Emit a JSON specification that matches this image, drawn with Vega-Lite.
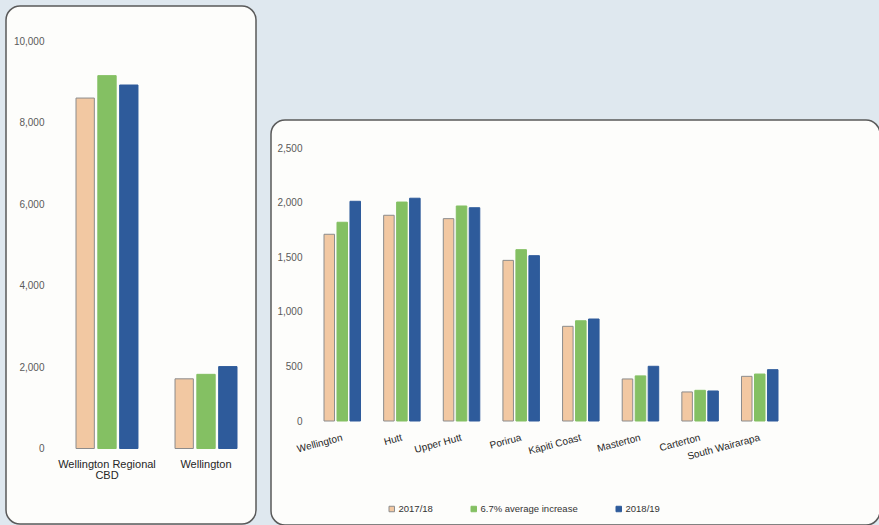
{
  "$schema": "https://vega.github.io/schema/vega-lite/v6.json",
  "background": "#dfe8ef",
  "padding": {"left": 5, "top": 5, "right": 0, "bottom": 0},
  "spacing": 13,
  "datasets": {
    "cbd": [
      {"area": "Wellington Regional CBD", "series": "2017/18", "value": 8600},
      {"area": "Wellington Regional CBD", "series": "6.7% average increase", "value": 9150},
      {"area": "Wellington Regional CBD", "series": "2018/19", "value": 8920},
      {"area": "Wellington", "series": "2017/18", "value": 1710},
      {"area": "Wellington", "series": "6.7% average increase", "value": 1820},
      {"area": "Wellington", "series": "2018/19", "value": 2010}
    ],
    "districts": [
      {"area": "Wellington", "series": "2017/18", "value": 1710},
      {"area": "Wellington", "series": "6.7% average increase", "value": 1820},
      {"area": "Wellington", "series": "2018/19", "value": 2012},
      {"area": "Hutt", "series": "2017/18", "value": 1884},
      {"area": "Hutt", "series": "6.7% average increase", "value": 2005},
      {"area": "Hutt", "series": "2018/19", "value": 2040},
      {"area": "Upper Hutt", "series": "2017/18", "value": 1853},
      {"area": "Upper Hutt", "series": "6.7% average increase", "value": 1969},
      {"area": "Upper Hutt", "series": "2018/19", "value": 1953},
      {"area": "Porirua", "series": "2017/18", "value": 1471},
      {"area": "Porirua", "series": "6.7% average increase", "value": 1569},
      {"area": "Porirua", "series": "2018/19", "value": 1514},
      {"area": "Kāpiti Coast", "series": "2017/18", "value": 867},
      {"area": "Kāpiti Coast", "series": "6.7% average increase", "value": 918},
      {"area": "Kāpiti Coast", "series": "2018/19", "value": 934},
      {"area": "Masterton", "series": "2017/18", "value": 385},
      {"area": "Masterton", "series": "6.7% average increase", "value": 413},
      {"area": "Masterton", "series": "2018/19", "value": 501},
      {"area": "Carterton", "series": "2017/18", "value": 266},
      {"area": "Carterton", "series": "6.7% average increase", "value": 281},
      {"area": "Carterton", "series": "2018/19", "value": 275},
      {"area": "South Wairarapa", "series": "2017/18", "value": 409},
      {"area": "South Wairarapa", "series": "6.7% average increase", "value": 430},
      {"area": "South Wairarapa", "series": "2018/19", "value": 470}
    ]
  },
  "hconcat": [
    {
      "data": {"name": "cbd"},
      "width": 250,
      "height": 518,
      "mark": {"type": "bar", "strokeWidth": 1},
      "encoding": {
        "x": {
          "field": "area", "type": "nominal",
          "sort": ["Wellington Regional CBD", "Wellington"],
          "scale": {"range": [70, 231], "paddingInner": 0.374, "paddingOuter": 0},
          "axis": {
            "title": null, "labelAngle": 0, "domain": false, "ticks": false,
            "offset": -75.5, "labelPadding": 10, "labelFontSize": 11, "labelColor": "#262626",
            "labelLineHeight": 11,
            "labelExpr": "datum.label == 'Wellington Regional CBD' ? ['Wellington Regional', 'CBD'] : datum.label"
          }
        },
        "xOffset": {
          "field": "series", "type": "nominal",
          "sort": ["2017/18", "6.7% average increase", "2018/19"],
          "scale": {"paddingInner": 0.16, "paddingOuter": 0}
        },
        "y": {
          "field": "value", "type": "quantitative",
          "scale": {"domain": [0, 10000], "range": [442.5, 35], "nice": false},
          "axis": {
            "title": null, "values": [0, 2000, 4000, 6000, 8000, 10000], "format": ",.0f",
            "offset": -38, "domain": false, "ticks": false, "grid": false,
            "labelPadding": 0, "labelFontSize": 10, "labelColor": "#5a5a5a"
          }
        },
        "fill": {
          "field": "series", "type": "nominal",
          "scale": {"domain": ["2017/18", "6.7% average increase", "2018/19"], "range": ["#f2c8a2", "#84c063", "#2e5b9b"]},
          "legend": null
        },
        "stroke": {
          "field": "series", "type": "nominal",
          "scale": {"domain": ["2017/18", "6.7% average increase", "2018/19"], "range": ["#8c8c8c", "#84c063", "#2e5b9b"]},
          "legend": null
        }
      }
    },
    {
      "spacing": 0,
      "vconcat": [
        {
          "data": {"values": []},
          "width": 609,
          "height": 113,
          "view": {"stroke": null, "fill": null},
          "mark": "point",
          "encoding": {}
        },
        {
          "data": {"name": "districts"},
          "width": 609,
          "height": 405,
          "mark": {"type": "bar", "strokeWidth": 1},
          "encoding": {
            "x": {
              "field": "area", "type": "nominal",
              "sort": ["Wellington", "Hutt", "Upper Hutt", "Porirua", "Kāpiti Coast", "Masterton", "Carterton", "South Wairarapa"],
              "scale": {"range": [53, 507], "paddingInner": 0.388, "paddingOuter": 0},
              "axis": {
                "title": null, "labelAngle": -15, "labelAlign": "right", "labelBaseline": "middle",
                "domain": false, "ticks": false, "offset": -104, "labelPadding": 16,
                "labelFontSize": 10, "labelColor": "#262626"
              }
            },
            "xOffset": {
              "field": "series", "type": "nominal",
              "sort": ["2017/18", "6.7% average increase", "2018/19"],
              "scale": {"paddingInner": 0.19, "paddingOuter": 0}
            },
            "y": {
              "field": "value", "type": "quantitative",
              "scale": {"domain": [0, 2500], "range": [301, 28], "nice": false},
              "axis": {
                "title": null, "values": [0, 500, 1000, 1500, 2000, 2500], "format": ",.0f",
                "offset": -31, "domain": false, "ticks": false, "grid": false,
                "labelPadding": 0, "labelFontSize": 10, "labelColor": "#5a5a5a"
              }
            },
            "fill": {
              "field": "series", "type": "nominal",
              "scale": {"domain": ["2017/18", "6.7% average increase", "2018/19"], "range": ["#f2c8a2", "#84c063", "#2e5b9b"]},
              "legend": {
                "title": null, "orient": "none", "legendX": 116, "legendY": 498, "direction": "horizontal",
                "symbolType": "square", "symbolSize": 30, "symbolStrokeWidth": 1, "columnPadding": 36,
                "labelFontSize": 9.5, "labelColor": "#333333", "labelOffset": 2
              }
            },
            "stroke": {
              "field": "series", "type": "nominal",
              "scale": {"domain": ["2017/18", "6.7% average increase", "2018/19"], "range": ["#8c8c8c", "#84c063", "#2e5b9b"]},
              "legend": {
                "title": null, "orient": "none", "legendX": 116, "legendY": 498, "direction": "horizontal",
                "symbolType": "square", "symbolSize": 30, "symbolStrokeWidth": 1, "columnPadding": 36,
                "labelFontSize": 9.5, "labelColor": "#333333", "labelOffset": 2
              }
            }
          }
        }
      ]
    }
  ],
  "resolve": {"scale": {"x": "independent", "y": "independent", "xOffset": "independent", "fill": "independent", "stroke": "independent"}},
  "config": {
    "font": "Liberation Sans",
    "view": {"fill": "#fdfdfb", "stroke": "#5a5a5a", "strokeWidth": 1.5, "cornerRadius": 14}
  }
}
